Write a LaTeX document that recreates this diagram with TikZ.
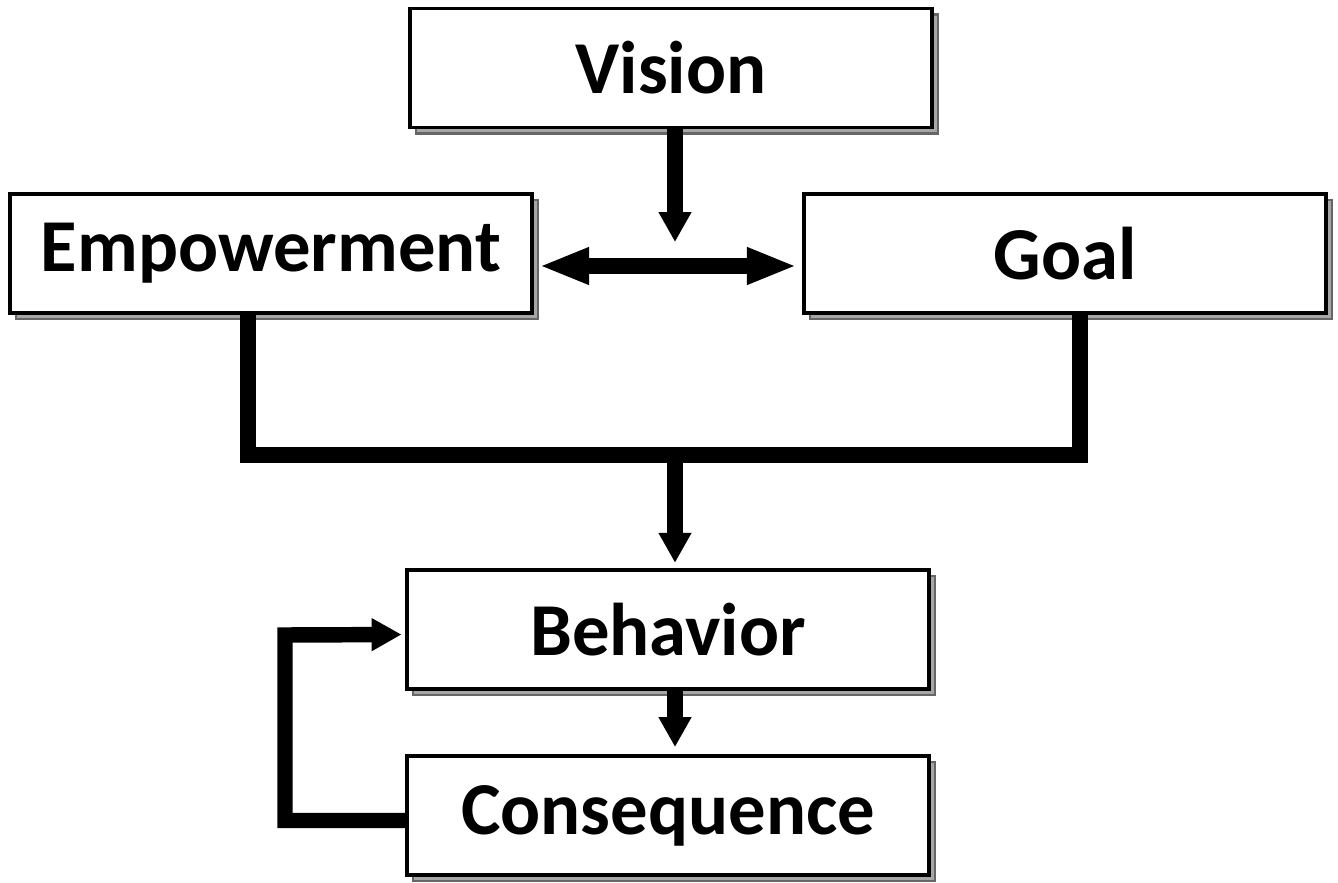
\documentclass[tikz,border=0pt]{standalone}
\usepackage{fontspec}
\setmainfont{Carlito}
\usetikzlibrary{arrows.meta, shadows}
\tikzset{
  blockbox/.style={draw, line width=2.2pt, fill=white, minimum width=10.44cm,
                   minimum height=2.38cm, inner sep=0pt,
                   font=\fontsize{42.5}{46}\selectfont\bfseries,
                   copy shadow={shadow xshift=0.12cm, shadow yshift=-0.12cm,
                                fill=gray!70, draw=black!60, line width=1.2pt}},
  conn/.style={line width=8.8pt, line join=miter},
  tipa/.style={-{Triangle[width=0.62cm, length=0.6cm]}},
  tipb/.style={{Triangle[width=0.68cm, length=1cm]}-{Triangle[width=0.68cm, length=1cm]}},
}
\begin{document}
\begin{tikzpicture}[x=0.02cm, y=-0.02cm]
    \useasboundingbox (0,0) rectangle (1338,882);
    \node[blockbox] (vis)  at (671,68)    {Vision};
    \node[blockbox] (emp)  at (271,253.5) {Empowerment};
    \node[blockbox] (goal) at (1065,253.5) {Goal};
    \node[blockbox] (beh)  at (668,629.5) {Behavior};
    \node[blockbox] (cons) at (668,815.5) {Consequence};
    \coordinate (vtip)  at (675,242);
    \coordinate (merge) at (675,455);
    \coordinate (fbk)   at (285,635);
    % vision into the link between empowerment and goal
    \draw[conn, tipa] (vis.south -| vtip) -- (vtip);
    \draw[conn, tipb, shorten <=3pt, shorten >=3pt]
      ([yshift=-0.25cm]emp.east) -- ([yshift=-0.25cm]goal.west);
    % both feed behavior
    \draw[conn] ([xshift=-0.46cm]emp.south) |- (merge) -| ([xshift=0.3cm]goal.south);
    \draw[conn, tipa, shorten >=3pt] (merge) -- (merge |- beh.north);
    \draw[conn, tipa, shorten >=4pt] (beh.south -| merge) -- (cons.north -| merge);
    % feedback loop
    \draw[conn, tipa, shorten >=2pt] ([yshift=-0.1cm]cons.west) -| (fbk) -- ([yshift=-0.1cm]beh.west);
\end{tikzpicture}
\end{document}
